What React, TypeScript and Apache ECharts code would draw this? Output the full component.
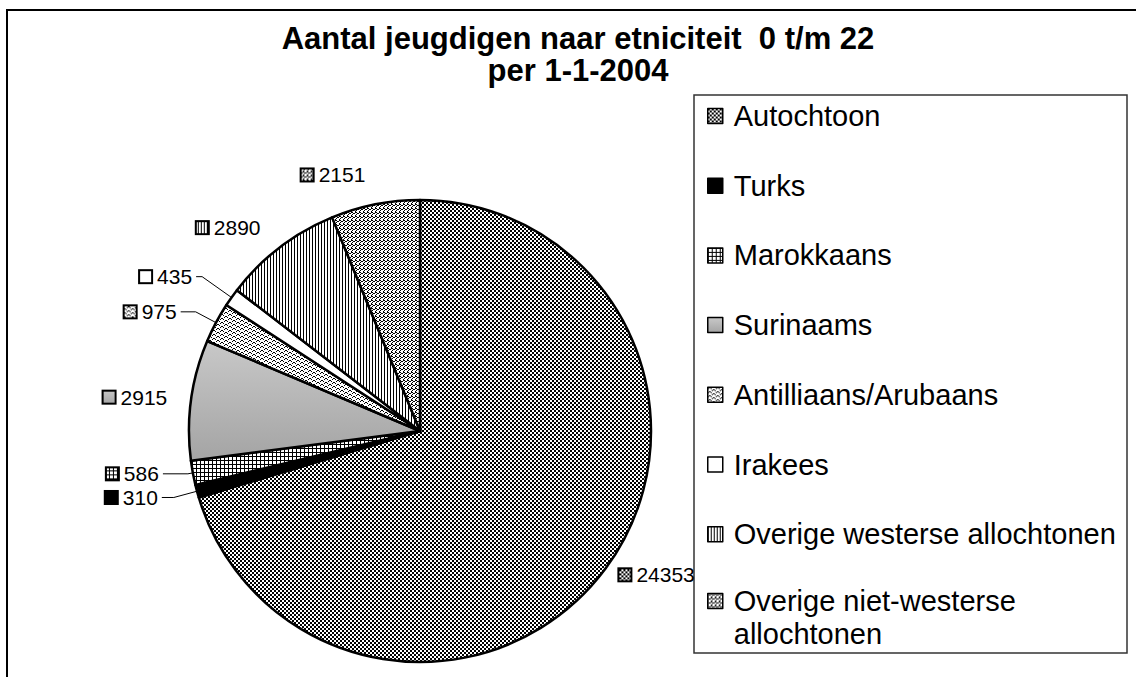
import React, { useEffect, useRef } from 'react';
import * as echarts from 'echarts';

const categories = [
  'Autochtoon',
  'Turks',
  'Marokkaans',
  'Surinaams',
  'Antilliaans/Arubaans',
  'Irakees',
  'Overige westerse allochtonen',
  'Overige niet-westerse allochtonen',
];
const values = [24353, 310, 586, 2915, 975, 435, 2890, 2151];
const titleLines = ['Aantal jeugdigen naar etniciteit  0 t/m 22', 'per 1-1-2004'];

const FONT = "'Liberation Sans', Arial, Helvetica, sans-serif";

type Fill =
  | { kind: 'tile'; rows: string[] }
  | { kind: 'solid'; color: string }
  | { kind: 'gradient'; from: string; to: string };

const fills: Fill[] = [
  { kind: 'tile', rows: ['##..', '##..', '..##', '..##'] },
  { kind: 'solid', color: '#000000' },
  { kind: 'tile', rows: ['####', '#...', '#...', '#...'] },
  { kind: 'gradient', from: '#c8c8c8', to: '#a4a4a4' },
  { kind: 'tile', rows: ['.##.....', '#..#....', '.....##.', '....#..#'] },
  { kind: 'solid', color: '#ffffff' },
  { kind: 'tile', rows: ['#..'] },
  { kind: 'tile', rows: ['#..#', '.##.', '#...', '...#'] },
];

// label line layout per slice (show, length, length2)
const lineLayout = [
  { show: false, length: 10, length2: 0 },
  { show: true, length: 24, length2: 12 },
  { show: true, length: 5, length2: 25 },
  { show: false, length: 20, length2: 0 },
  { show: true, length: 23, length2: 15 },
  { show: true, length: 36, length2: 6 },
  { show: false, length: 25, length2: 0 },
  { show: false, length: 30, length2: 0 },
];

function makeTile(rows: string[]): HTMLCanvasElement {
  const tw = rows[0].length;
  const th = rows.length;
  const size = 24;
  const c = document.createElement('canvas');
  c.width = size;
  c.height = size;
  const ctx = c.getContext('2d')!;
  ctx.fillStyle = '#fff';
  ctx.fillRect(0, 0, size, size);
  ctx.fillStyle = '#000';
  for (let y = 0; y < size; y++) {
    for (let x = 0; x < size; x++) {
      if (rows[y % th][x % tw] === '#') ctx.fillRect(x, y, 1, 1);
    }
  }
  return c;
}

function seriesColor(f: Fill): any {
  if (f.kind === 'solid') return f.color;
  if (f.kind === 'gradient')
    return new echarts.graphic.LinearGradient(0, 0, 0, 1, [
      { offset: 0, color: f.from },
      { offset: 1, color: f.to },
    ]);
  const tile = makeTile(f.rows);
  return { image: tile, repeat: 'repeat', imageWidth: tile.width, imageHeight: tile.height };
}

function makeKey(f: Fill): HTMLCanvasElement {
  const s = 15;
  const c = document.createElement('canvas');
  c.width = s;
  c.height = s;
  const ctx = c.getContext('2d')!;
  if (f.kind === 'solid') ctx.fillStyle = f.color;
  else if (f.kind === 'gradient') {
    const g = ctx.createLinearGradient(0, 0, 0, s);
    g.addColorStop(0, f.from);
    g.addColorStop(1, f.to);
    ctx.fillStyle = g;
  } else {
    ctx.fillStyle = ctx.createPattern(makeTile(f.rows), 'repeat')!;
  }
  ctx.fillRect(0, 0, s, s);
  ctx.strokeStyle = '#000';
  ctx.lineWidth = 2;
  ctx.strokeRect(1, 1, s - 2, s - 2);
  return c;
}

export default function App() {
  const ref = useRef<HTMLDivElement>(null);

  useEffect(() => {
    if (!ref.current) return;
    const chart = echarts.init(ref.current, null, { renderer: 'svg' });

    const rich: Record<string, any> = {
      v: { fontSize: 21, fontFamily: FONT, color: '#000', padding: [0, 0, 0, 4] },
    };
    fills.forEach((f, i) => {
      rich['k' + i] = { width: 15, height: 15, backgroundColor: { image: makeKey(f) } };
    });

    const legendText = {
      fontFamily: FONT,
      fontSize: 29,
      color: '#000',
      lineHeight: 33,
      padding: [0, 0, 0, 6],
    };
    const legendCommon = {
      orient: 'vertical',
      left: 707,
      padding: 0,
      itemGap: 36.7,
      itemWidth: 15,
      itemHeight: 15,
      icon: 'rect',
      selectedMode: false,
      itemStyle: { borderColor: '#000', borderWidth: 1.5 },
      textStyle: legendText,
    };

    const option: any = {
      animation: false,
      backgroundColor: '#fff',
      legend: [
        { ...legendCommon, data: categories.slice(0, 7), top: 99.5 },
        {
          ...legendCommon,
          data: categories.slice(7),
          top: 551.5,
          formatter: () => '\nOverige niet-westerse\nallochtonen',
        },
      ],
      graphic: [
        {
          type: 'rect',
          silent: true,
          shape: { x: 7, y: 10, width: 1300, height: 1000 },
          style: { fill: 'none', stroke: '#000', lineWidth: 2 },
        },
        {
          type: 'rect',
          silent: true,
          shape: { x: 694, y: 95, width: 433, height: 558 },
          style: { fill: 'none', stroke: '#333', lineWidth: 1.5 },
        },
        {
          type: 'text',
          silent: true,
          x: 578,
          y: 22.5,
          style: {
            text: titleLines.join('\n'),
            align: 'center',
            verticalAlign: 'top',
            fontFamily: FONT,
            fontSize: 31,
            fontWeight: 'bold',
            lineHeight: 32,
            fill: '#000',
          },
        },
      ],
      series: [
        {
          type: 'pie',
          center: [420, 431],
          radius: 231,
          startAngle: 90,
          clockwise: true,
          emphasis: { disabled: true },
          itemStyle: { borderColor: '#000', borderWidth: 2.5 },
          label: {
            show: true,
            position: 'outside',
            distanceToLabelLine: 4,
            color: '#000',
            formatter: (p: any) => '{k' + p.dataIndex + '|}{v|' + p.value + '}',
            rich,
          },
          labelLine: { show: false, lineStyle: { color: '#000', width: 1 } },
          data: categories.map((name, i) => ({
            name,
            value: values[i],
            itemStyle: { color: seriesColor(fills[i]) },
            labelLine: {
              show: lineLayout[i].show,
              length: lineLayout[i].length,
              length2: lineLayout[i].length2,
              lineStyle: { color: '#000', width: 1 },
            },
          })),
        },
      ],
    };

    chart.setOption(option);
    return () => chart.dispose();
  }, []);

  return (
    <div
      ref={ref}
      style={{ position: 'fixed', left: 0, top: 0, width: 1136, height: 677 }}
    />
  );
}
